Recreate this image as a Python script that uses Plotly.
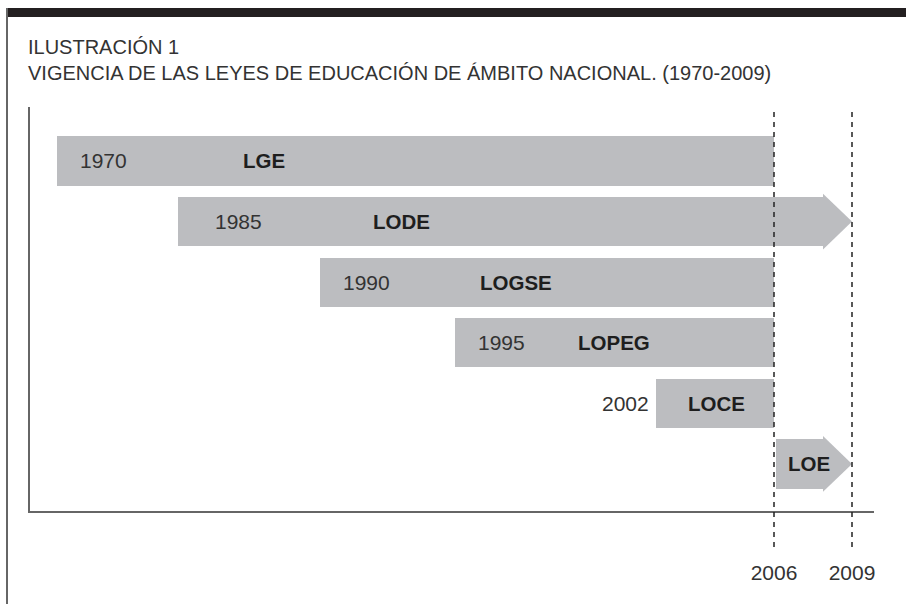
import plotly.graph_objects as go

# ---------------- data ----------------
laws = ["LGE", "LODE", "LOGSE", "LOPEG", "LOCE", "LOE"]
start_labels = ["1970", "1985", "1990", "1995", "2002", ""]
# schematic timeline positions (the chart is not drawn to a linear year scale)
bar_start = [27, 148, 290, 425, 626, 746]
bar_end = [744, 822, 744, 744, 744, 822]
in_force = [False, True, False, False, False, True]  # drawn with an arrow head
tick_vals = [744, 822]
tick_text = ["2006", "2009"]

# ---------------- layout constants ----------------
W, H = 906, 604
ML, MR, MT, MB = 30, 32, 107, 93
PW, PH = W - ML - MR, H - MT - MB
BAR_COLOR = "#bcbdc0"
FONT = "Liberation Sans, Arial, Helvetica, sans-serif"
HEAD_LEN = 29
BAR_W = 0.81
HEAD_HALF = 0.46
year_offset = [21, 35, 21, 21, -5, 0]
name_left = [211, 341, 448, 546, 656, 756]


def px_x(p):
    return (p - ML) / PW


def px_y(p):
    return (H - MB - p) / PH


rows = list(range(len(laws)))
body_end = [e - HEAD_LEN if f else e for e, f in zip(bar_end, in_force)]

fig = go.Figure()
fig.add_trace(go.Bar(
    y=rows, x=[b - s for s, b in zip(bar_start, body_end)], base=bar_start,
    orientation="h", width=BAR_W, marker=dict(color=BAR_COLOR, line=dict(width=0)),
    hoverinfo="skip", showlegend=False,
))
for r, (be, e, f) in enumerate(zip(body_end, bar_end, in_force)):
    if f:
        fig.add_trace(go.Scatter(
            x=[be, be, e, be], y=[r - HEAD_HALF, r + HEAD_HALF, r, r - HEAD_HALF],
            fill="toself", fillcolor=BAR_COLOR, mode="lines", line=dict(width=0),
            hoverinfo="skip", showlegend=False,
        ))

annotations = []
for r, (law, lab, s) in enumerate(zip(laws, start_labels, bar_start)):
    if lab:
        off = year_offset[r]
        annotations.append(dict(
            x=s + off, y=r, xref="x", yref="y", text=lab, showarrow=False,
            xanchor="left" if off >= 0 else "right",
            font=dict(family=FONT, size=21, color="#333333"),
        ))
    annotations.append(dict(
        x=name_left[r], y=r, xref="x", yref="y", text="<b>%s</b>" % law, showarrow=False,
        xanchor="left", font=dict(family=FONT, size=20.5, color="#1e1e1e"),
    ))

annotations.append(dict(
    x=px_x(26), y=px_y(47), xref="paper", yref="paper", xanchor="left", yanchor="middle",
    text="ILUSTRACIÓN 1", showarrow=False, font=dict(family=FONT, size=20, color="#333333"),
))
annotations.append(dict(
    x=px_x(26), y=px_y(73), xref="paper", yref="paper", xanchor="left", yanchor="middle",
    text="VIGENCIA DE LAS LEYES DE EDUCACIÓN DE ÁMBITO NACIONAL. (1970-2009)", showarrow=False,
    font=dict(family=FONT, size=20, color="#333333"),
))

shapes = [
    dict(type="rect", xref="paper", yref="paper", x0=px_x(6), x1=px_x(910), y0=px_y(17), y1=px_y(8),
         fillcolor="#231f20", line=dict(width=0)),
    dict(type="line", xref="paper", yref="paper", x0=px_x(7), x1=px_x(7), y0=px_y(8), y1=px_y(610),
         line=dict(color="#666666", width=2)),
]
for tv in tick_vals:
    shapes.append(dict(type="line", xref="x", yref="paper", x0=tv, x1=tv, y0=px_y(547), y1=1,
                       line=dict(color="#222222", width=1.5, dash="5px,5px"), layer="above"))

fig.update_layout(
    width=W, height=H, autosize=False,
    margin=dict(l=ML, r=MR, t=MT, b=MB, pad=0),
    paper_bgcolor="white", plot_bgcolor="white",
    annotations=annotations, shapes=shapes, bargap=0,
    xaxis=dict(range=[0, PW], showgrid=False, zeroline=False, showline=True,
               linecolor="#666666", linewidth=2, tickmode="array", tickvals=tick_vals,
               ticktext=tick_text, ticks="", ticklabelstandoff=42,
               tickfont=dict(family=FONT, size=21, color="#333333")),
    yaxis=dict(range=[5.776, -0.891], showgrid=False, zeroline=False, showline=True,
               linecolor="#666666", linewidth=2, showticklabels=False, ticks=""),
)

fig.write_html("out.html", config={"displayModeBar": False},
               post_script="document.body.style.margin='0';document.body.style.overflow='hidden';")
